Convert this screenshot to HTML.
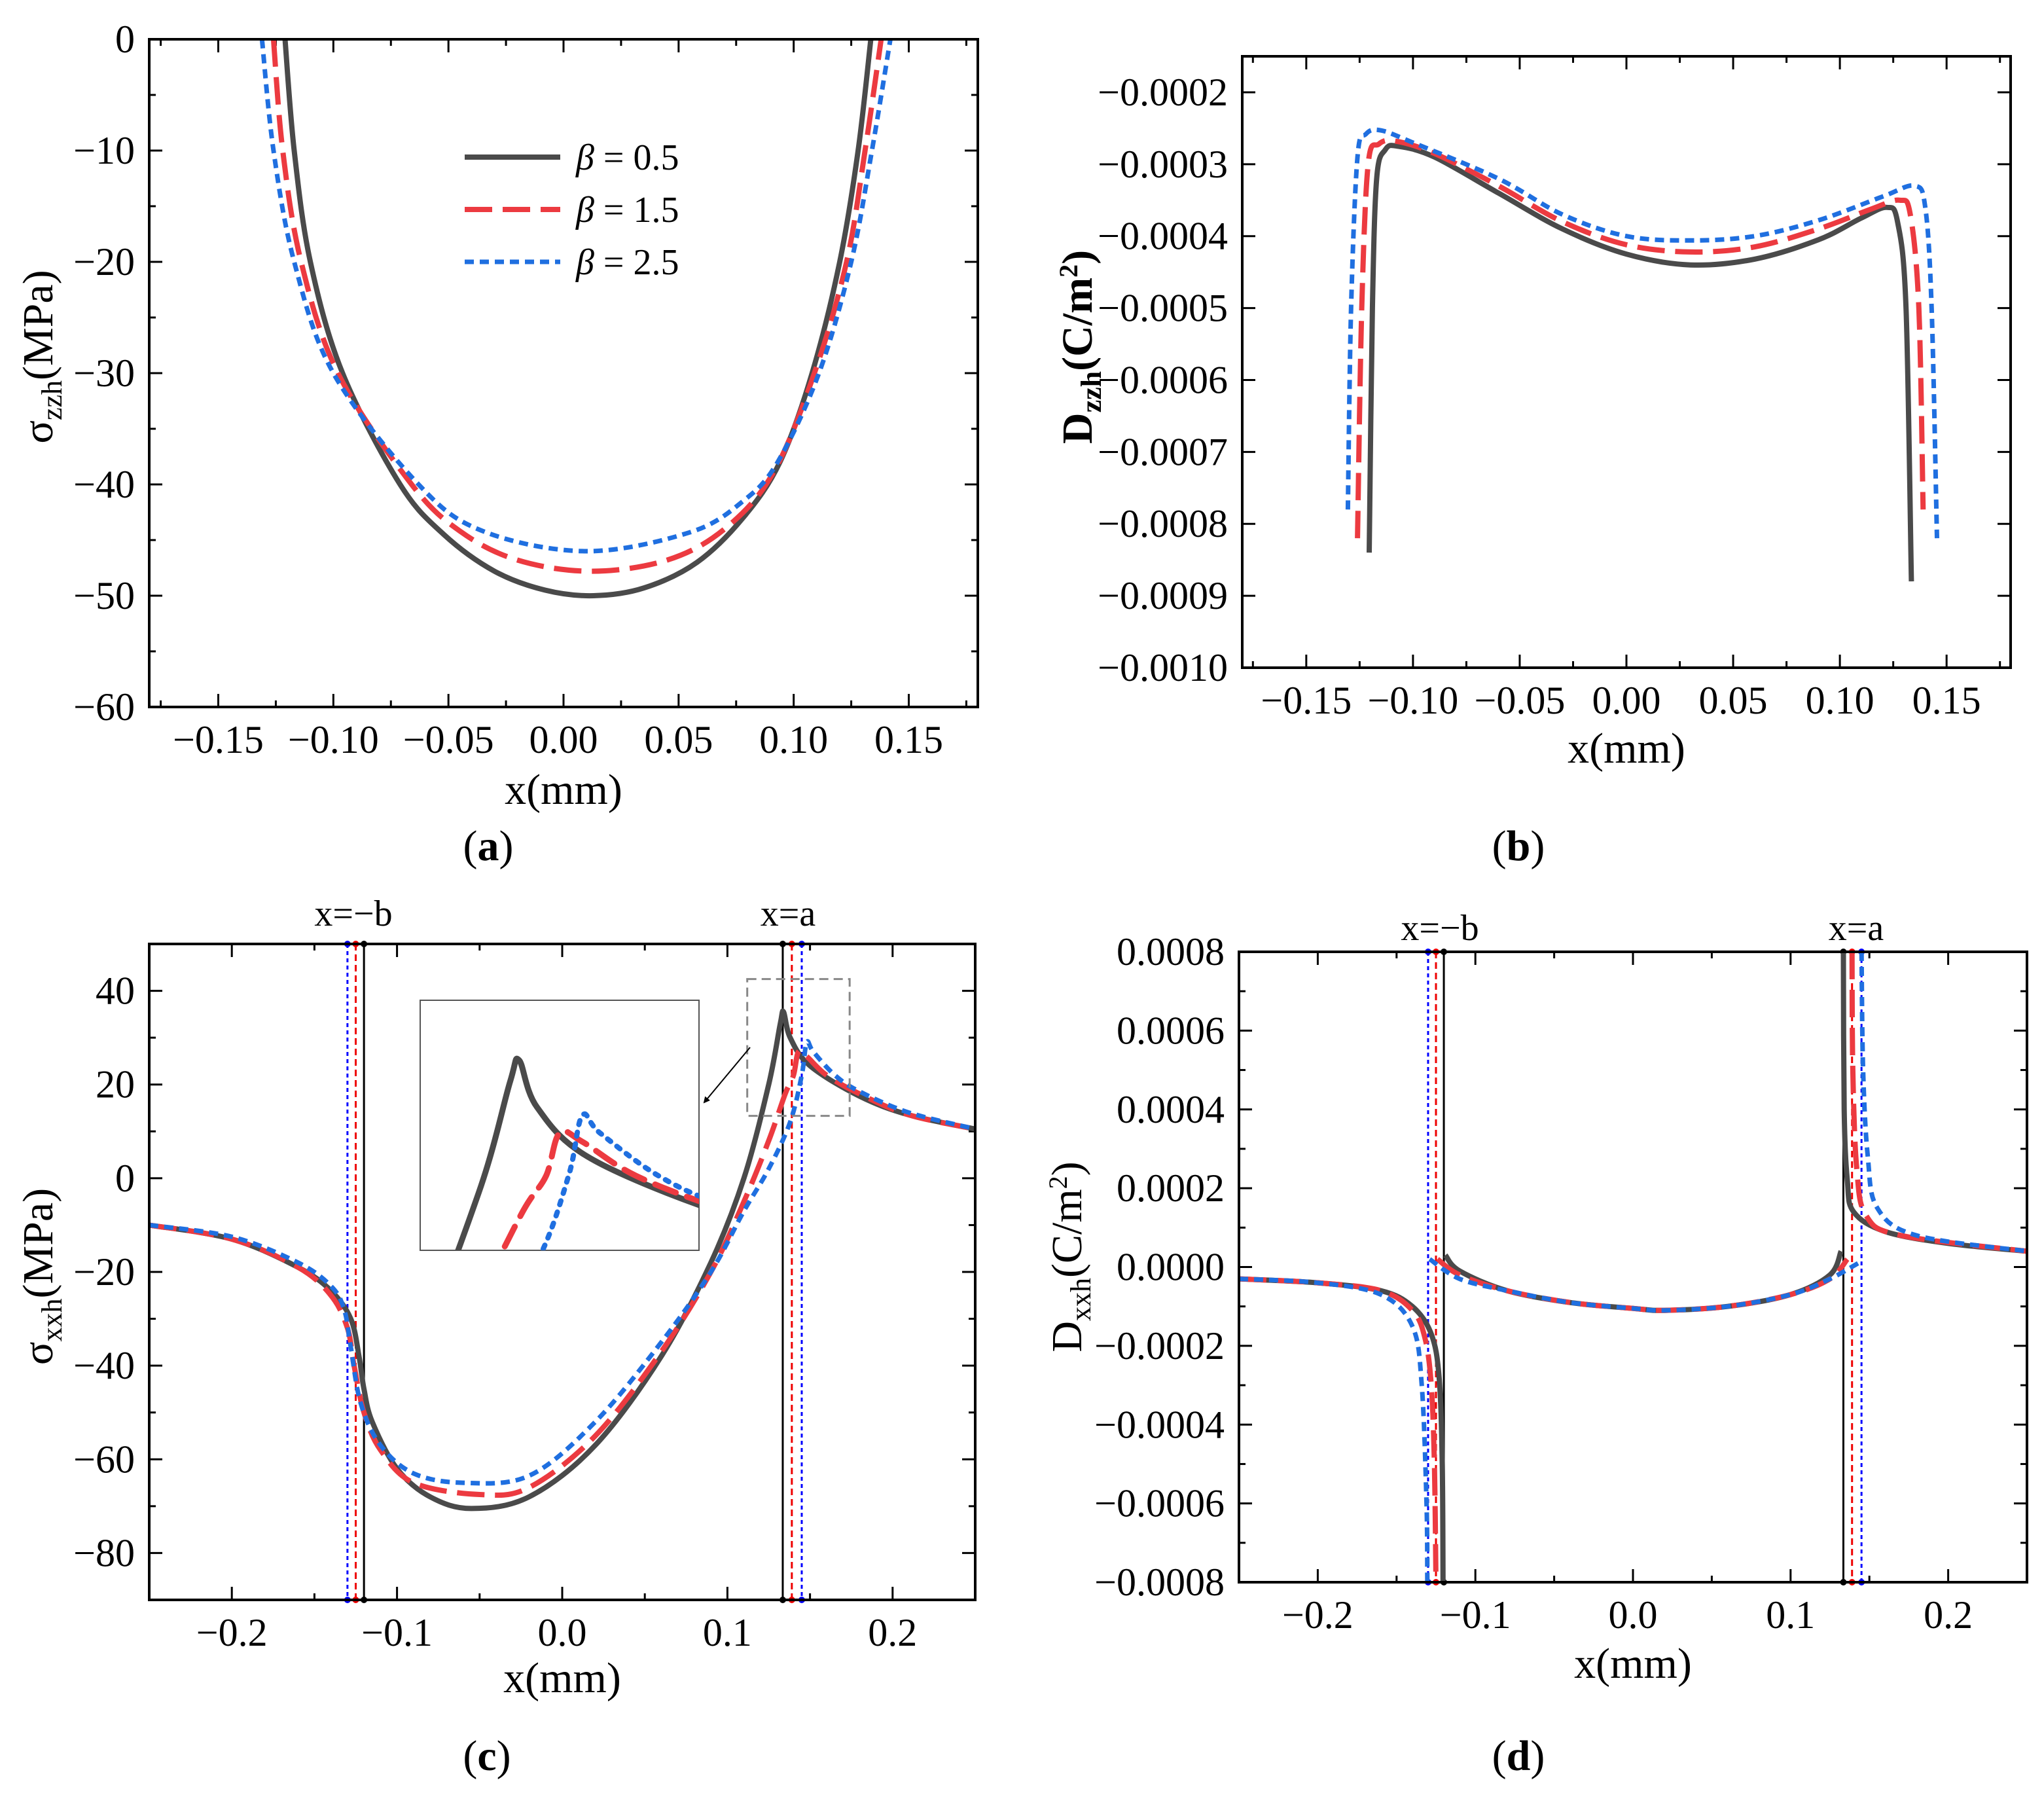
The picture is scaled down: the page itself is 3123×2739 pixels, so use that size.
<!DOCTYPE html>
<html><head><meta charset="utf-8"><style>
html,body{margin:0;padding:0;background:#fff;overflow:hidden;width:3123px;height:2739px;}
svg{display:block;font-family:"Liberation Serif",serif;}
</style></head><body>
<svg id="fig" width="3123" height="2739" viewBox="0 0 3123 2739" xmlns="http://www.w3.org/2000/svg">
<defs>
<marker id="arr" markerWidth="10" markerHeight="10" refX="8" refY="5" orient="auto" markerUnits="userSpaceOnUse"><path d="M0,0 L10,5 L0,10 z" fill="#000"/></marker>
</defs>
</svg>
<script>
// ---------- data ----------
const seriesNames=["β = 0.5","β = 1.5","β = 2.5"];
// panel a: sigma_zzh
const aX0=[-0.121,-0.117,-0.110,-0.096,-0.071,-0.052,-0.03,-0.008,0.013,0.035,0.058,0.078,0.094,0.108,0.120,0.128,0.1335];
const aY0=[0,-10,-20,-30,-40,-44.5,-47.8,-49.5,-50,-49.3,-47,-43,-38,-30,-20,-10,0];
const aX1=[-0.126,-0.122,-0.114,-0.098,-0.066,-0.045,-0.02,0.012,0.045,0.07,0.091,0.109,0.123,0.131,0.138];
const aY1=[0,-10,-20,-30,-40,-44.2,-46.8,-47.8,-46.8,-44,-39,-30,-20,-10,0];
const aX2=[-0.131,-0.126,-0.117,-0.100,-0.063,-0.035,0.01,0.055,0.078,0.093,0.111,0.125,0.134,0.142];
const aY2=[0,-10,-20,-30,-40,-44.2,-46,-44.3,-41.5,-38,-30,-20,-10,0];
// panel b: D_zzh
const bX0=[-0.1205,-0.119,-0.117,-0.113,-0.107,-0.09,-0.06,-0.03,0,0.03,0.06,0.09,0.11,0.122,0.127,0.131,0.1335];
const bY0=[-0.00084,-0.0005,-0.00032,-0.00028,-0.000275,-0.00029,-0.00034,-0.00039,-0.000425,-0.00044,-0.000432,-0.000405,-0.000375,-0.00036,-0.00038,-0.0005,-0.00088];
const bX1=[-0.126,-0.124,-0.121,-0.116,-0.108,-0.09,-0.06,-0.03,0,0.03,0.06,0.09,0.115,0.128,0.133,0.137,0.139];
const bY1=[-0.00082,-0.0005,-0.0003,-0.000272,-0.000268,-0.000285,-0.00033,-0.00038,-0.000412,-0.000422,-0.000415,-0.00039,-0.000362,-0.00035,-0.00037,-0.0005,-0.00078];
const bX2=[-0.1305,-0.129,-0.126,-0.122,-0.115,-0.1,-0.06,-0.03,0,0.03,0.06,0.09,0.12,0.135,0.14,0.143,0.1455];
const bY2=[-0.00078,-0.0005,-0.00029,-0.000258,-0.000253,-0.00027,-0.00032,-0.00037,-0.0004,-0.000406,-0.0004,-0.000378,-0.000345,-0.00033,-0.00036,-0.0005,-0.00082];
// panel c: sigma_xxh
const cX0=[-0.25,-0.2,-0.16,-0.14,-0.128,-0.123,-0.12,-0.115,-0.1,-0.08,-0.055,-0.02,0.02,0.06,0.09,0.11,0.125,0.132,0.134,0.138,0.15,0.18,0.21,0.25];
const cY0=[-10,-13,-19,-24,-30,-38,-45,-52,-62,-68,-70.5,-68,-57,-38,-18,0,20,33,35.5,30,24,17.5,13.5,10.5];
const cX1=[-0.25,-0.2,-0.16,-0.14,-0.13,-0.126,-0.12,-0.11,-0.09,-0.05,-0.02,0.02,0.06,0.09,0.11,0.125,0.135,0.14,0.143,0.148,0.16,0.18,0.21,0.25];
const cY1=[-10,-13,-19,-25,-32,-40,-50,-58,-65,-67.5,-66,-55,-37,-20,-5,8,18,22,27,26,22,18,13.5,10.5];
const cX2=[-0.25,-0.2,-0.16,-0.14,-0.132,-0.128,-0.122,-0.11,-0.09,-0.06,-0.02,0.02,0.06,0.09,0.11,0.125,0.138,0.145,0.148,0.152,0.165,0.18,0.21,0.25];
const cY2=[-10,-12.5,-18,-23,-28,-36,-48,-57,-63,-65,-63.5,-52,-35,-20,-7,2,12,22,29,27,22,18.5,14,10.5];
// panel d: D_xxh (three segments per series)
const dL0x=[-0.25,-0.2,-0.16,-0.14,-0.128,-0.123,-0.121,-0.1205];
const dL0y=[-0.00003,-0.00004,-0.00006,-0.0001,-0.00017,-0.00028,-0.0005,-0.0008];
const dM0x=[-0.119,-0.11,-0.08,-0.04,0,0.02,0.06,0.1,0.125,0.132];
const dM0y=[0.00003,-0.00001,-0.00006,-0.00009,-0.000105,-0.00011,-0.0001,-0.00007,-0.00002,0.00004];
const dR0x=[0.1335,0.134,0.136,0.14,0.16,0.2,0.25];
const dR0y=[0.0008,0.0004,0.00022,0.00014,0.00009,0.00006,0.00004];
const dL1x=[-0.25,-0.2,-0.16,-0.14,-0.132,-0.128,-0.126,-0.125];
const dL1y=[-0.00003,-0.00004,-0.00006,-0.00011,-0.00018,-0.0003,-0.0005,-0.0008];
const dM1x=[-0.124,-0.11,-0.08,-0.04,0,0.02,0.06,0.1,0.125,0.136];
const dM1y=[0.00002,-0.00002,-0.00006,-0.00009,-0.000105,-0.00011,-0.0001,-0.00007,-0.00003,0.00002];
const dR1x=[0.139,0.1395,0.142,0.148,0.17,0.25];
const dR1y=[0.0008,0.0005,0.00025,0.00013,0.00008,0.00004];
const dL2x=[-0.25,-0.2,-0.16,-0.14,-0.134,-0.131,-0.1305];
const dL2y=[-0.00003,-0.00004,-0.00007,-0.00015,-0.0003,-0.0006,-0.0008];
const dM2x=[-0.129,-0.11,-0.08,-0.04,0,0.02,0.06,0.1,0.125,0.143];
const dM2y=[0.00002,-0.00003,-0.00006,-0.00009,-0.000105,-0.00011,-0.0001,-0.00007,-0.00003,0.00001];
const dR2x=[0.145,0.146,0.149,0.155,0.18,0.25];
const dR2y=[0.0008,0.0005,0.00028,0.00015,0.00008,0.00004];
// boundary positions (-b, a) for each beta
const bndB=[-0.12,-0.125,-0.13];
const bndA=[0.1335,0.139,0.145];
// ticks
const aYTicks=[0,-10,-20,-30,-40,-50,-60];
const abXTicks=[-0.15,-0.10,-0.05,0.00,0.05,0.10,0.15];
const bYTicks=[-0.0002,-0.0003,-0.0004,-0.0005,-0.0006,-0.0007,-0.0008,-0.0009,-0.0010];
const cYTicks=[40,20,0,-20,-40,-60,-80];
const cdXTicks=[-0.2,-0.1,0.0,0.1,0.2];
const dYTicks=[0.0008,0.0006,0.0004,0.0002,0.0000,-0.0002,-0.0004,-0.0006,-0.0008];

// ---------- drawing ----------
const NS="http://www.w3.org/2000/svg";
const svg=document.getElementById('fig');
const COLORS=["#4a4a4a","#ec3a40","#1f6fe0"];
const DASH=[null,"42,16","14,9"];
const WID=[8,8,7];
const VCOL=["#000","#e00","#00f"];
const VDASH=[null,"10,6","6,5"];
function el(tag,attrs,parent){const e=document.createElementNS(NS,tag);for(const k in attrs)e.setAttribute(k,attrs[k]);(parent||svg).appendChild(e);return e;}
function lin(d0,d1,r0,r1){return v=>r0+(v-d0)/(d1-d0)*(r1-r0);}
function smooth(pts){
  let d="M"+pts[0][0].toFixed(1)+","+pts[0][1].toFixed(1);
  for(let i=0;i<pts.length-1;i++){
    const p0=pts[Math.max(0,i-1)],p1=pts[i],p2=pts[i+1],p3=pts[Math.min(pts.length-1,i+2)];
    const c1=[p1[0]+(p2[0]-p0[0])/6,p1[1]+(p2[1]-p0[1])/6];
    const c2=[p2[0]-(p3[0]-p1[0])/6,p2[1]-(p3[1]-p1[1])/6];
    d+=" C"+c1[0].toFixed(1)+","+c1[1].toFixed(1)+" "+c2[0].toFixed(1)+","+c2[1].toFixed(1)+" "+p2[0].toFixed(1)+","+p2[1].toFixed(1);
  }
  return d;
}
let clipN=0;
function panel(cfg){
  const g=el('g',{});
  
  
  const sx=lin(cfg.xd[0],cfg.xd[1],cfg.L,cfg.R), sy=lin(cfg.yd[0],cfg.yd[1],cfg.B,cfg.T);
  const cid="clip"+(clipN++);
  const cp=el('clipPath',{id:cid},g);el('rect',{x:cfg.L,y:cfg.T,width:cfg.R-cfg.L,height:cfg.B-cfg.T},cp);
  const tg=el('g',{stroke:'#000','stroke-width':3},g);
  cfg.xt.forEach(v=>{const x=sx(v);
    el('line',{x1:x,y1:cfg.B,x2:x,y2:cfg.B-20},tg);el('line',{x1:x,y1:cfg.T,x2:x,y2:cfg.T+20},tg);
    const t=el('text',{x:x,y:cfg.B+70,'text-anchor':'middle','font-size':60,stroke:'none'},g);t.textContent=cfg.xf(v);
    });
  cfg.xm.forEach(v=>{const x=sx(v);if(x<cfg.L+2||x>cfg.R-2)return;
    el('line',{x1:x,y1:cfg.B,x2:x,y2:cfg.B-10},tg);el('line',{x1:x,y1:cfg.T,x2:x,y2:cfg.T+10},tg);});
  cfg.yt.forEach(v=>{const y=sy(v);
    el('line',{x1:cfg.L,y1:y,x2:cfg.L+20,y2:y},tg);el('line',{x1:cfg.R,y1:y,x2:cfg.R-20,y2:y},tg);
    const t=el('text',{x:cfg.L-22,y:y+20,'text-anchor':'end','font-size':60},g);t.textContent=cfg.yf(v);
    });
  cfg.ym.forEach(v=>{const y=sy(v);if(y<cfg.T+2||y>cfg.B-2)return;
    el('line',{x1:cfg.L,y1:y,x2:cfg.L+10,y2:y},tg);el('line',{x1:cfg.R,y1:y,x2:cfg.R-10,y2:y},tg);});
  if(cfg.vlines){
    const vg=el('g',{},g);
    
    
    [bndB,bndA].forEach(arr=>arr.forEach((v,i)=>{const x=sx(v);
      const a={x1:x,y1:cfg.T,x2:x,y2:cfg.B,stroke:VCOL[i],'stroke-width':3};if(VDASH[i])a['stroke-dasharray']=VDASH[i];
      el('line',a,vg);el('circle',{cx:x,cy:cfg.T,r:5,fill:VCOL[i]},vg);el('circle',{cx:x,cy:cfg.B,r:5,fill:VCOL[i]},vg);}));
  }
  const sg=el('g',{'clip-path':'url(#'+cid+')'},g);
  cfg.series.forEach((segs,i)=>{segs.forEach(s=>{
    const pts=s[0].map((x,k)=>[sx(x),sy(s[1][k])]);
    const a={d:smooth(pts),fill:'none',stroke:COLORS[i],'stroke-width':WID[i],'stroke-linejoin':'round'};
    if(DASH[i])a['stroke-dasharray']=DASH[i];
    const p=el('path',a,sg);
    
    
  });});
  el('rect',{x:cfg.L,y:cfg.T,width:cfg.R-cfg.L,height:cfg.B-cfg.T,fill:'none',stroke:'#000','stroke-width':4},g);
  return {g,sx,sy};
}
function minors(a,b,s){const r=[];for(let v=a;v<=b+s/2;v+=s)r.push(+v.toFixed(6));return r;}
const f2=v=>(v<0?"−":"")+Math.abs(v).toFixed(2);
const f1=v=>(v<0?"−":"")+Math.abs(v).toFixed(1);
const f4=v=>(v<0?"−":"")+Math.abs(v).toFixed(4);
const f0=v=>(v<0?"−":"")+Math.abs(v);

const pa=panel({name:'panel-a-sigma-zzh',L:228,R:1494,T:60,B:1080,xd:[-0.18,0.18],yd:[-60,0],xt:abXTicks,xm:minors(-0.175,0.175,0.05),yt:aYTicks,ym:minors(-55,-5,10),xf:f2,yf:f0,
  series:[[[aX0,aY0]],[[aX1,aY1]],[[aX2,aY2]]]});
const pb=panel({name:'panel-b-d-zzh',L:1898,R:3072,T:86,B:1020,xd:[-0.18,0.18],yd:[-0.0010,-0.00015],xt:abXTicks,xm:minors(-0.175,0.175,0.05),yt:bYTicks,ym:[],xf:f2,yf:f4,
  series:[[[bX0,bY0]],[[bX1,bY1]],[[bX2,bY2]]]});
const pc=panel({name:'panel-c-sigma-xxh',L:228,R:1490,T:1442,B:2444,xd:[-0.25,0.25],yd:[-90,50],xt:cdXTicks,xm:minors(-0.15,0.15,0.1).concat([-0.25,0.25]),yt:cYTicks,ym:minors(-90,50,10).filter(v=>Math.abs(v)%20===10),xf:f1,yf:f0,vlines:true,
  series:[[[cX0,cY0]],[[cX1,cY1]],[[cX2,cY2]]]});
const pd=panel({name:'panel-d-d-xxh',L:1893,R:3097,T:1454,B:2417,xd:[-0.25,0.25],yd:[-0.0008,0.0008],xt:cdXTicks,xm:minors(-0.15,0.15,0.1),yt:dYTicks,ym:minors(-0.0007,0.0007,0.0002),xf:f1,yf:f4,vlines:true,
  series:[[[dL0x,dL0y],[dM0x,dM0y],[dR0x,dR0y]],[[dL1x,dL1y],[dM1x,dM1y],[dR1x,dR1y]],[[dL2x,dL2y],[dM2x,dM2y],[dR2x,dR2y]]]});

// inset in panel c
(function(){
  const box={x0:0.112,x1:0.174,y0:13.3,y1:42.5};
  const ix=lin(box.x0,box.x1,642,1068), iy=lin(box.y0,box.y1,1910,1528);
  const g=el('g',{});
  
  
  const cp=el('clipPath',{id:'insclip'},g);el('rect',{x:642,y:1528,width:426,height:382},cp);
  el('rect',{x:642,y:1528,width:426,height:382,fill:'#fff',stroke:'#555','stroke-width':2},g);
  const sg=el('g',{'clip-path':'url(#insclip)'},g);
  const idash=[null,"34,18","6,12"];
  [[cX0,cY0],[cX1,cY1],[cX2,cY2]].forEach((s,i)=>{
    const pts=s[0].map((x,k)=>[ix(x),iy(s[1][k])]);
    const a={d:smooth(pts),fill:'none',stroke:COLORS[i],'stroke-width':WID[i]+1,'stroke-linecap':'round'};
    if(idash[i])a['stroke-dasharray']=idash[i];
    const p=el('path',a,sg);
    
    
  });
  const zb=el('rect',{x:pc.sx(box.x0),y:pc.sy(box.y1),width:pc.sx(box.x1)-pc.sx(box.x0),height:pc.sy(box.y0)-pc.sy(box.y1),fill:'none',stroke:'#888','stroke-width':3,'stroke-dasharray':'14,8'});
  
  
  const ar=el('line',{x1:1146,y1:1600,x2:1076,y2:1684,stroke:'#000','stroke-width':2,'marker-end':'url(#arr)'});
  
  
})();

// legend
(function(){
  const g=el('g',{});
  
  
  [240,320,400].forEach((y,i)=>{
    const a={x1:710,y1:y,x2:856,y2:y,stroke:COLORS[i],'stroke-width':WID[i]};if(DASH[i])a['stroke-dasharray']=DASH[i];
    el('line',a,g);
    const t=el('text',{x:880,y:y+19,'font-size':56},g);
    
    
    t.innerHTML='<tspan font-style="italic">β</tspan>'+seriesNames[i].slice(1);
  });
})();

function txt(x,y,html,attrs,name){const t=el('text',Object.assign({x:x,y:y,'text-anchor':'middle','font-size':66},attrs||{}));t.innerHTML=html;
  return t;}
txt(861,1228,'x(mm)',{},'x-axis-title');
txt(2485,1165,'x(mm)',{},'x-axis-title');
txt(859,2585,'x(mm)',{},'x-axis-title');
txt(2495,2563,'x(mm)',{},'x-axis-title');
txt(746,1314,'(<tspan font-weight="bold">a</tspan>)',{},'panel-label-a');
txt(2320,1314,'(<tspan font-weight="bold">b</tspan>)',{},'panel-label-b');
txt(744,2704,'(<tspan font-weight="bold">c</tspan>)',{},'panel-label-c');
txt(2320,2704,'(<tspan font-weight="bold">d</tspan>)',{},'panel-label-d');
txt(540,1414,'x=−b',{'font-size':56},'boundary-label-b');
txt(1204,1414,'x=a',{'font-size':56},'boundary-label-a');
txt(2200,1436,'x=−b',{'font-size':56},'boundary-label-b');
txt(2836,1436,'x=a',{'font-size':56},'boundary-label-a');
txt(0,0,'σ<tspan font-size="44" dy="14">zzh</tspan><tspan dy="-14">(MPa)</tspan>',{transform:'translate(80,545) rotate(-90)'},'y-axis-title');
txt(0,0,'D<tspan font-size="44" dy="14">zzh</tspan><tspan dy="-14">(C/m</tspan><tspan font-size="40" dy="-22">2</tspan><tspan dy="22">)</tspan>',{transform:'translate(1668,530) rotate(-90)','font-weight':'bold'},'y-axis-title');
txt(0,0,'σ<tspan font-size="44" dy="14">xxh</tspan><tspan dy="-14">(MPa)</tspan>',{transform:'translate(80,1950) rotate(-90)'},'y-axis-title');
txt(0,0,'D<tspan font-size="44" dy="14">xxh</tspan><tspan dy="-14">(C/m</tspan><tspan font-size="40" dy="-22">2</tspan><tspan dy="22">)</tspan>',{transform:'translate(1652,1920) rotate(-90)'},'y-axis-title');
</script>
</body></html>
